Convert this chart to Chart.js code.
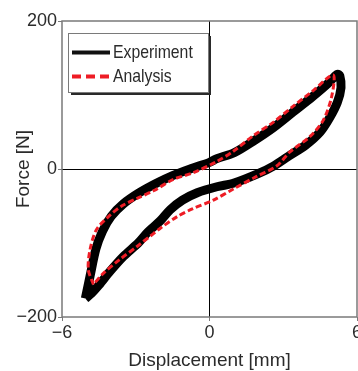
<!DOCTYPE html>
<html>
<head>
<meta charset="utf-8">
<script src="https://cdn.jsdelivr.net/npm/chart.js@4"></script>
<style>
  html, body { margin: 0; padding: 0; background: #fff; }
  #wrap { width: 358px; height: 371px; }
</style>
</head>
<body>
<div id="wrap"><canvas id="loopChart" width="358" height="371"></canvas></div>
<script>
/* ==============================
   DATA
============================== */
const expX = [-5.05, -4.86, -4.62, -4.35, -4.0, -3.5, -2.9, -2.2, -1.5, -0.7, 0, 0.3, 1.0, 1.8, 2.6, 3.4, 4.2, 4.8, 5.2, 5.3,
              5.35, 5.2, 4.9, 4.5, 3.9, 3.2, 2.6, 2.0, 1.0, 0.3, -0.5, -1.1, -1.6, -2.0, -2.5, -2.9, -3.5, -4.04, -4.5, -4.8, -5.05];
const expY = [-175, -145, -108, -84, -64, -47, -33, -20, -9, 1, 9, 14, 22, 38, 56, 77, 98, 115, 128, 126,
              110, 90, 70, 50, 32, 17, 4, -6, -19, -24, -32, -42, -55, -70, -85, -100, -118, -138, -157, -168, -175];

const anaX = [-4.72, -4.93, -4.86, -4.6, -4.1, -3.57, -2.9, -2.25, -1.47, -0.66, 0.29, 0.97, 1.78, 2.59, 3.41, 4.22, 5.03,
              4.97, 4.63, 4.09, 3.27, 2.73, 1.92, 0.97, 0.16, -0.7, -1.3, -2.0, -2.42, -2.96, -3.64, -4.32, -4.72];
const anaY = [-156, -136, -109, -82, -64, -50, -39, -29, -14, -5, 10, 24, 45, 63, 85, 106, 127,
              98, 66, 44, 23, 4, -10, -27, -42, -54, -64, -80, -91, -105, -122, -141, -156];

const xTicks = [-6, 0, 6];
const yTicks = [-200, 0, 200];
const seriesNames = ['Experiment', 'Analysis'];

const RED = '#ee1c25';
const TEXT = '#2b2b2b';
const FONT = "'Liberation Sans', Arial, sans-serif";

function toPoints(xs, ys) {
    return xs.map((x, i) => ({ x: x, y: ys[i] }));
}

function tickText(v) {
    return v < 0 ? '\u2212' + Math.abs(v) : String(v);
}

/* ==============================
   FRAME + LEGEND PLUGIN
============================== */
const framePlugin = {
    id: 'frame',
    afterDraw(chart) {
        const { ctx, chartArea: a } = chart;
        ctx.save();
        // plot border
        ctx.strokeStyle = '#7a7a7a';
        ctx.lineWidth = 1.5;
        ctx.strokeRect(a.left, a.top, a.right - a.left, a.bottom - a.top);

        // legend box with shadow
        const bx = 68, by = 33, bw = 140, bh = 59;
        ctx.fillStyle = '#2a2a2a';
        ctx.fillRect(bx + 3, by + 3, bw, bh);
        ctx.fillStyle = '#fff';
        ctx.fillRect(bx, by, bw, bh);
        ctx.strokeStyle = '#7a7a7a';
        ctx.lineWidth = 1;
        ctx.strokeRect(bx + 0.5, by + 0.5, bw, bh);

        ctx.lineWidth = 4;
        ctx.strokeStyle = '#111';
        ctx.beginPath();
        ctx.moveTo(72, 52.5);
        ctx.lineTo(110, 52.5);
        ctx.stroke();

        ctx.strokeStyle = RED;
        ctx.setLineDash([9, 5]);
        ctx.beginPath();
        ctx.moveTo(72, 76.5);
        ctx.lineTo(110, 76.5);
        ctx.stroke();
        ctx.setLineDash([]);

        // condensed legend text
        ctx.fillStyle = TEXT;
        ctx.textBaseline = 'middle';
        ctx.font = '19px ' + FONT;
        ctx.translate(113, 0);
        ctx.scale(0.83, 1);
        ctx.fillText(seriesNames[0], 0, 53);
        ctx.fillText(seriesNames[1], 0, 77);
        ctx.restore();
    }
};

const gridOpts = {
    color: c => c.tick && c.tick.value === 0 ? '#000' : 'rgba(0,0,0,0)',
    lineWidth: 1,
    tickColor: '#7a7a7a',
    tickLength: 4
};

/* ==============================
   CHART
============================== */
new Chart(document.getElementById('loopChart').getContext('2d'), {
    type: 'scatter',
    data: {
        datasets: [{
            label: seriesNames[0],
            data: toPoints(expX, expY),
            showLine: true,
            borderColor: '#000',
            borderWidth: 9,
            pointRadius: 0,
            tension: 0.3,
            order: 3
        }, {
            label: seriesNames[1],
            data: toPoints(anaX, anaY),
            showLine: true,
            borderColor: RED,
            borderWidth: 3,
            borderDash: [6, 3],
            pointRadius: 0,
            tension: 0.3,
            order: 1
        }]
    },
    options: {
        responsive: false,
        animation: false,
        layout: { padding: { top: 21, right: 1, left: 0, bottom: 0 } },
        plugins: { legend: { display: false }, tooltip: { enabled: false } },
        scales: {
            x: {
                type: 'linear',
                min: -6, max: 6,
                afterBuildTicks: axis => { axis.ticks = xTicks.map(v => ({ value: v })); },
                afterFit: axis => {
                    axis.height = 54;
                    axis.paddingLeft = 0;
                    axis.paddingRight = 0;
                },
                grid: gridOpts,
                border: { display: false },
                ticks: {
                    color: TEXT,
                    padding: 1,
                    maxRotation: 0,
                    font: { family: FONT, size: 18 },
                    callback: tickText
                },
                title: {
                    display: true,
                    text: 'Displacement [mm]',
                    color: TEXT,
                    font: { family: FONT, size: 19, lineHeight: 1 },
                    padding: { top: 0, bottom: 1 }
                }
            },
            y: {
                type: 'linear',
                min: -200, max: 200,
                afterBuildTicks: axis => { axis.ticks = yTicks.map(v => ({ value: v })); },
                afterFit: axis => { axis.width = 62; },
                grid: gridOpts,
                border: { display: false },
                ticks: {
                    color: TEXT,
                    padding: 1,
                    font: { family: FONT, size: 18 },
                    callback: tickText
                },
                title: {
                    display: true,
                    text: 'Force [N]',
                    color: TEXT,
                    font: { family: FONT, size: 19, lineHeight: 1 },
                    padding: { top: 14, bottom: 0 }
                }
            }
        }
    },
    plugins: [framePlugin]
});
</script>
</body>
</html>
